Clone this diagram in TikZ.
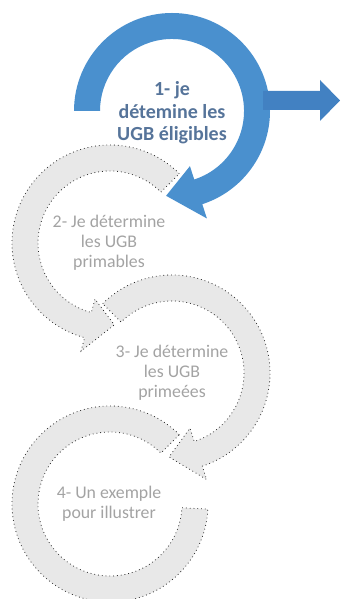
\documentclass[tikz,border=0pt]{standalone}
\usepackage{fontspec}
\setmainfont{Carlito}
\usetikzlibrary{calc}
\definecolor{ringblue}{HTML}{4A90CE}
\definecolor{arrblue}{HTML}{4281C2}
\definecolor{ringgray}{HTML}{E8E8E8}
\definecolor{dotgray}{HTML}{2A2A2A}
\definecolor{txtgray}{HTML}{A3A3A3}
\definecolor{txtblue}{HTML}{56749A}
\begin{document}
\begin{tikzpicture}[x=1pt,y=1pt,
 bluering/.style={fill=ringblue, draw=none},
 grayring/.style={fill=ringgray, draw=dotgray, line width=0.8pt, dash pattern=on 0.8pt off 3pt},
 graytext/.style={text=txtgray, align=center, font=\fontsize{17.8}{20}\selectfont, inner sep=0pt},
 bluetext/.style={text=txtblue, align=center, font=\fontsize{20}{22.5}\selectfont\bfseries, inner sep=0pt}]
\useasboundingbox (0,0) rectangle (341,599);
\coordinate (c1) at (172,488);
\coordinate (c2) at (110,356);
\coordinate (c3) at (172,226);
\coordinate (c4) at (110,95);
% ring 4
\draw[grayring] ($(c4)+(45:98)$) arc[start angle=45, end angle=357, radius=98]
  -- ($(c4)+(357:72)$) arc[start angle=357, end angle=45, radius=72] -- cycle;
% ring 3
\draw[grayring] ($(c3)+(135:98)$) arc[start angle=135, end angle=-72, radius=98]
  -- ($(c3)+(-72:112)$) -- ($(c3)+(-92:84)$) -- ($(c3)+(-72:58)$)
  -- ($(c3)+(-72:72)$) arc[start angle=-72, end angle=135, radius=72] -- cycle;
% ring 2
\draw[grayring] ($(c2)+(45:98)$) arc[start angle=45, end angle=255, radius=98]
  -- ($(c2)+(255:112)$) -- ($(c2)+(273:82)$) -- ($(c2)+(255:58)$)
  -- ($(c2)+(255:72)$) arc[start angle=255, end angle=45, radius=72] -- cycle;
% ring 1
\fill[bluering] ($(c1)+(180:98)$) arc[start angle=180, end angle=-72, radius=98]
  -- ($(c1)+(-72:113)$) -- ($(c1)+(-94:85)$) -- ($(c1)+(-72:58)$)
  -- ($(c1)+(-72:72)$) arc[start angle=-72, end angle=180, radius=72] -- cycle;
% right arrow
\fill[arrblue] (263,489) -- (320,489) -- (320,478) -- (340,498.5) -- (320,519) -- (320,508) -- (263,508) -- cycle;
% texts
\node[bluetext] (t1) at (172,486) {1- je\\détemine les\\UGB éligibles};
\node[graytext] (t2) at (109,356) {2- Je détermine\\les UGB\\primables};
\node[graytext] (t3) at (172,226) {3- Je détermine\\les UGB\\primeées};
\node[graytext] (t4) at (109,95) {4- Un exemple\\pour illustrer};
\end{tikzpicture}
\end{document}
